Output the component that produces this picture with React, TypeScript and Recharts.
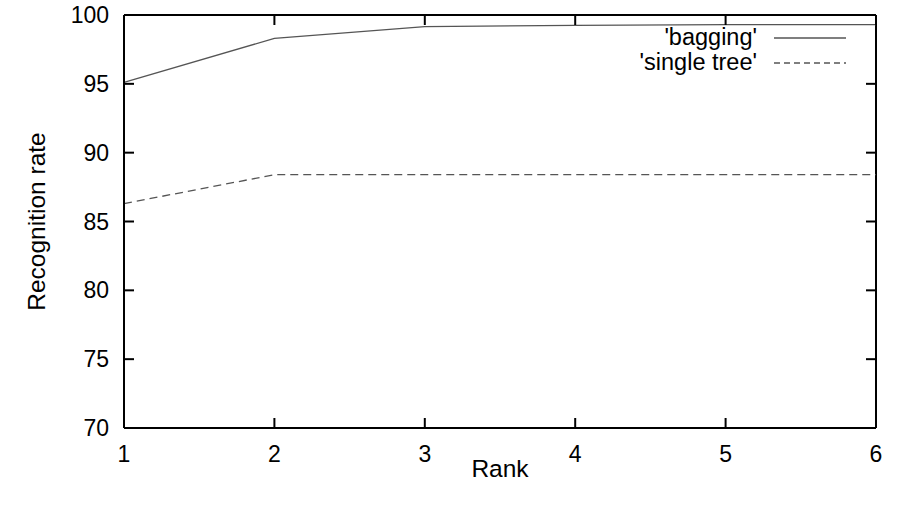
import React from 'react';
import { LineChart, Line, XAxis, YAxis, ReferenceLine } from 'recharts';

const ranks = [1, 2, 3, 4, 5, 6];
const bagging = [95.1, 98.3, 99.15, 99.25, 99.3, 99.3];
const singleTree = [86.3, 88.4, 88.4, 88.4, 88.4, 88.4];
const yTicks = [70, 75, 80, 85, 90, 95, 100];

const data = ranks.map((r, i) => ({ rank: r, bagging: bagging[i], single: singleTree[i] }));

const FONT = '"Liberation Sans", Arial, sans-serif';
const W = 902;
const H = 505;
const M = { top: 15, right: 26, bottom: 0, left: 0 };
const Y_AXIS_W = 124;
const X_AXIS_H = 77;
const PLOT_TOP = M.top;
const PLOT_BOTTOM = H - M.bottom - X_AXIS_H;
const PLOT_LEFT = M.left + Y_AXIS_W;
const PLOT_RIGHT = W - M.right;
const TICK_LEN = 10;

// gnuplot-style ticks: point into the plot on all four sides, labels outside
const BottomTick = ({ x, payload }: any) => (
  <g>
    <line x1={x} y1={PLOT_BOTTOM} x2={x} y2={PLOT_BOTTOM - TICK_LEN} stroke="#000" strokeWidth={2} />
    <line x1={x} y1={PLOT_TOP} x2={x} y2={PLOT_TOP + TICK_LEN} stroke="#000" strokeWidth={2} />
    <text x={x} y={PLOT_BOTTOM + 26} textAnchor="middle" dominantBaseline="central" fontSize={23} fontFamily={FONT} fill="#000">
      {payload.value}
    </text>
  </g>
);

const LeftTick = ({ y, payload }: any) => (
  <g>
    <line x1={PLOT_LEFT} y1={y} x2={PLOT_LEFT + TICK_LEN} y2={y} stroke="#000" strokeWidth={2} />
    <line x1={PLOT_RIGHT} y1={y} x2={PLOT_RIGHT - TICK_LEN} y2={y} stroke="#000" strokeWidth={2} />
    <text x={PLOT_LEFT - 15} y={y} textAnchor="end" dominantBaseline="central" fontSize={23} fontFamily={FONT} fill="#000">
      {payload.value}
    </text>
  </g>
);

const legendItems = [
  { label: "'bagging'", dash: undefined },
  { label: "'single tree'", dash: '6 4' },
];

const LegendBox = () => (
  <div style={{ position: 'absolute', top: 25, right: 56, fontFamily: FONT, fontSize: 23.5, color: '#000' }}>
    {legendItems.map((it) => (
      <div key={it.label} style={{ display: 'flex', alignItems: 'center', justifyContent: 'flex-end', height: 25 }}>
        <span style={{ lineHeight: '25px', whiteSpace: 'pre' }}>{it.label}</span>
        <svg width={72} height={4} style={{ marginLeft: 17 }}>
          <line x1={0} y1={2} x2={72} y2={2} stroke="#555" strokeWidth={1.3} strokeDasharray={it.dash} />
        </svg>
      </div>
    ))}
  </div>
);

export default function App() {
  return (
    <div style={{ position: 'absolute', left: 0, top: 0, width: W, height: H, background: '#fff' }}>
      <LineChart width={W} height={H} data={data} margin={M}>
        <XAxis
          dataKey="rank"
          type="number"
          domain={[1, 6]}
          ticks={ranks}
          height={X_AXIS_H}
          stroke="#000"
          strokeWidth={2}
          tickLine={false}
          tickSize={0}
          tickMargin={0}
          tick={<BottomTick />}
          label={(props: any) => {
            const vb = props.viewBox;
            return (
              <text x={vb.x + vb.width / 2} y={PLOT_BOTTOM + 40} textAnchor="middle" dominantBaseline="central" fontSize={24.5} fontFamily={FONT} fill="#000">
                Rank
              </text>
            );
          }}
        />
        <YAxis
          type="number"
          domain={[70, 100]}
          ticks={yTicks}
          width={Y_AXIS_W}
          stroke="#000"
          strokeWidth={2}
          tickLine={false}
          tickSize={0}
          tickMargin={0}
          tick={<LeftTick />}
          label={(props: any) => {
            const vb = props.viewBox;
            const cy = vb.y + vb.height / 2;
            return (
              <text x={36} y={cy} transform={`rotate(-90 36 ${cy})`} textAnchor="middle" dominantBaseline="central" fontSize={24.5} fontFamily={FONT} fill="#000">
                Recognition rate
              </text>
            );
          }}
        />
        <ReferenceLine y={100} stroke="#000" strokeWidth={2} />
        <ReferenceLine x={6} stroke="#000" strokeWidth={2} />
        <Line dataKey="bagging" stroke="#555" strokeWidth={1.3} dot={false} isAnimationActive={false} />
        <Line dataKey="single" stroke="#555" strokeWidth={1.3} strokeDasharray="8 5" dot={false} isAnimationActive={false} />
      </LineChart>
      <LegendBox />
    </div>
  );
}
